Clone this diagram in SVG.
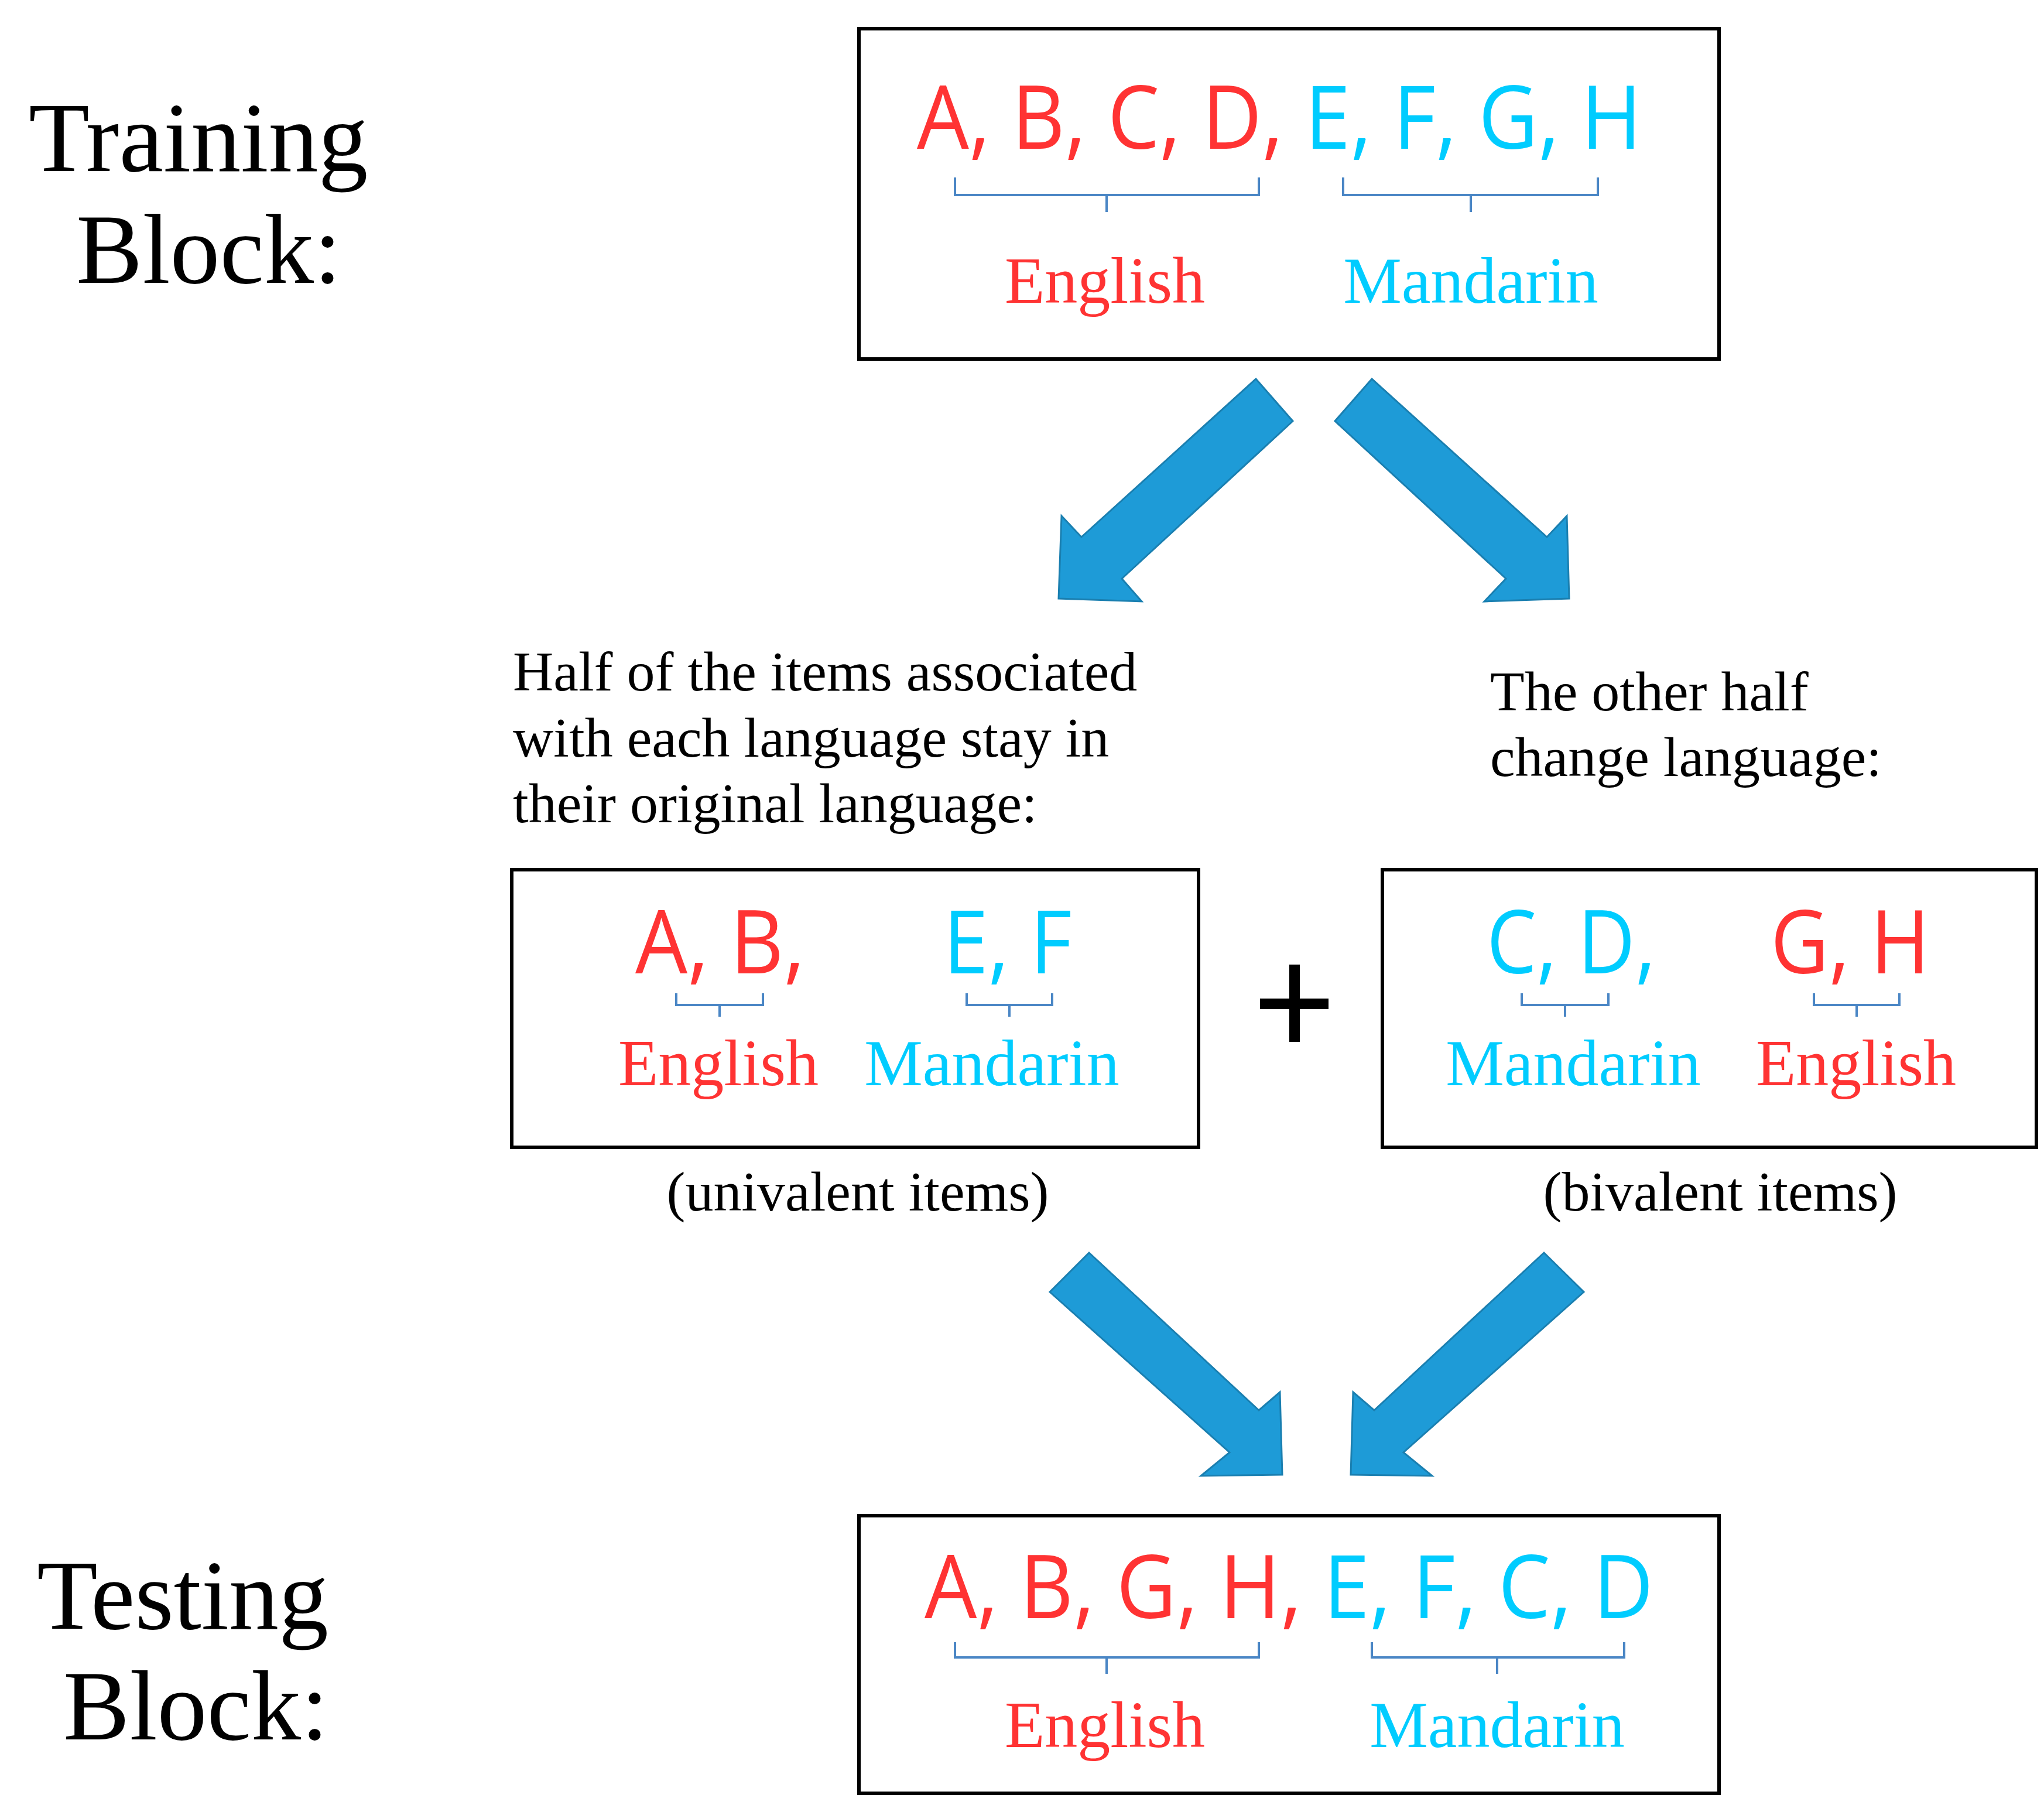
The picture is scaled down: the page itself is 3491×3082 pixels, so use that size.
<svg xmlns="http://www.w3.org/2000/svg" width="3491" height="3082" viewBox="0 0 3491 3082">
<style>
.box{fill:#fff;stroke:#000;stroke-width:6}
.let{font-family:"Open Sans","DejaVu Sans",sans-serif;font-size:150px}
.r{fill:#ff3333}.c{fill:#00ccff}
.lab{font-family:"Liberation Serif",serif;font-size:112px;text-anchor:middle}
.blk{font-family:"Liberation Serif",serif;font-size:170px;fill:#000}
.txt{font-family:"Liberation Serif",serif;font-size:96px;fill:#000}
.br{fill:none;stroke:#4a86c5;stroke-width:4}
.arr{fill:#1e9bd7;stroke:#1a7fb0;stroke-width:3}
</style>
<rect width="3491" height="3082" fill="#fff"/>
<g id="labels">
<text class="blk" x="49" y="292">Training</text>
<text class="blk" x="130" y="483">Block:</text>
<text class="blk" x="63" y="2781">Testing</text>
<text class="blk" x="108" y="2970">Block:</text>
<text class="txt" x="876" y="1179">Half of the items associated</text>
<text class="txt" x="876" y="1292">with each language stay in</text>
<text class="txt" x="876" y="1404">their original language:</text>
<text class="txt" x="2545" y="1213">The other half</text>
<text class="txt" x="2545" y="1325">change language:</text>
<text class="txt" x="1465" y="2067" text-anchor="middle">(univalent items)</text>
<text class="txt" x="2938" y="2067" text-anchor="middle">(bivalent items)</text>
</g>
<g id="training">
<rect class="box" x="1467" y="49" width="1469" height="564"/>
<text class="let" x="1566" y="254" textLength="1238" lengthAdjust="spacingAndGlyphs"><tspan class="r">A, B, C, D, </tspan><tspan class="c">E, F, G, H</tspan></text>
<path class="br" d="M1631 303V333H2150V303M1890 333V362"/>
<path class="br" d="M2294 303V333H2729V303M2512 333V362"/>
<text class="lab r" x="1887" y="517">English</text>
<text class="lab c" x="2512" y="517">Mandarin</text>
</g>
<g id="univalent">
<rect class="box" x="874" y="1485" width="1173" height="474"/>
<text class="let r" x="1085" y="1662" textLength="290" lengthAdjust="spacingAndGlyphs">A, B,</text>
<text class="let c" x="1611" y="1662" textLength="220" lengthAdjust="spacingAndGlyphs">E, F</text>
<path class="br" d="M1155 1696V1716H1303V1696M1229 1716V1736"/>
<path class="br" d="M1651 1696V1716H1797V1696M1724 1716V1736"/>
<text class="lab r" x="1227" y="1853">English</text>
<text class="lab c" x="1694" y="1853">Mandarin</text>
</g>
<g id="plus">
<path d="M2211 1647V1779M2152 1714H2269" stroke="#000" stroke-width="18"/>
</g>
<g id="bivalent">
<rect class="box" x="2361" y="1485" width="1117" height="474"/>
<text class="let c" x="2539" y="1662" textLength="289" lengthAdjust="spacingAndGlyphs">C, D,</text>
<text class="let r" x="3024" y="1662" textLength="272" lengthAdjust="spacingAndGlyphs">G, H</text>
<path class="br" d="M2599 1696V1716H2747V1696M2673 1716V1736"/>
<path class="br" d="M3098 1696V1716H3244V1696M3171 1716V1736"/>
<text class="lab c" x="2687" y="1853">Mandarin</text>
<text class="lab r" x="3170" y="1853">English</text>
</g>
<g id="testing">
<rect class="box" x="1467" y="2588" width="1469" height="474"/>
<text class="let" x="1579" y="2763" textLength="1245" lengthAdjust="spacingAndGlyphs"><tspan class="r">A, B, G, H, </tspan><tspan class="c">E, F, C, D</tspan></text>
<path class="br" d="M1631 2804V2830H2150V2804M1890 2830V2858"/>
<path class="br" d="M2343 2804V2830H2774V2804M2557 2830V2858"/>
<text class="lab r" x="1887" y="2983">English</text>
<text class="lab c" x="2557" y="2983">Mandarin</text>
</g>
<g id="connectors">
<polygon class="arr" points="2145,647 2208,719 1916,988 1950,1027 1808,1022 1813,881 1847,917"/>
<polygon class="arr" points="2343,647 2280,719 2572,988 2535,1027 2680,1022 2676,881 2642,917"/>
<polygon class="arr" points="1860,2139 1793,2206 2100,2480 2051,2520 2190,2518 2186,2377 2150,2408"/>
<polygon class="arr" points="2637,2139 2705,2206 2397,2480 2446,2520 2307,2518 2311,2377 2347,2408"/>
</g>
</svg>
